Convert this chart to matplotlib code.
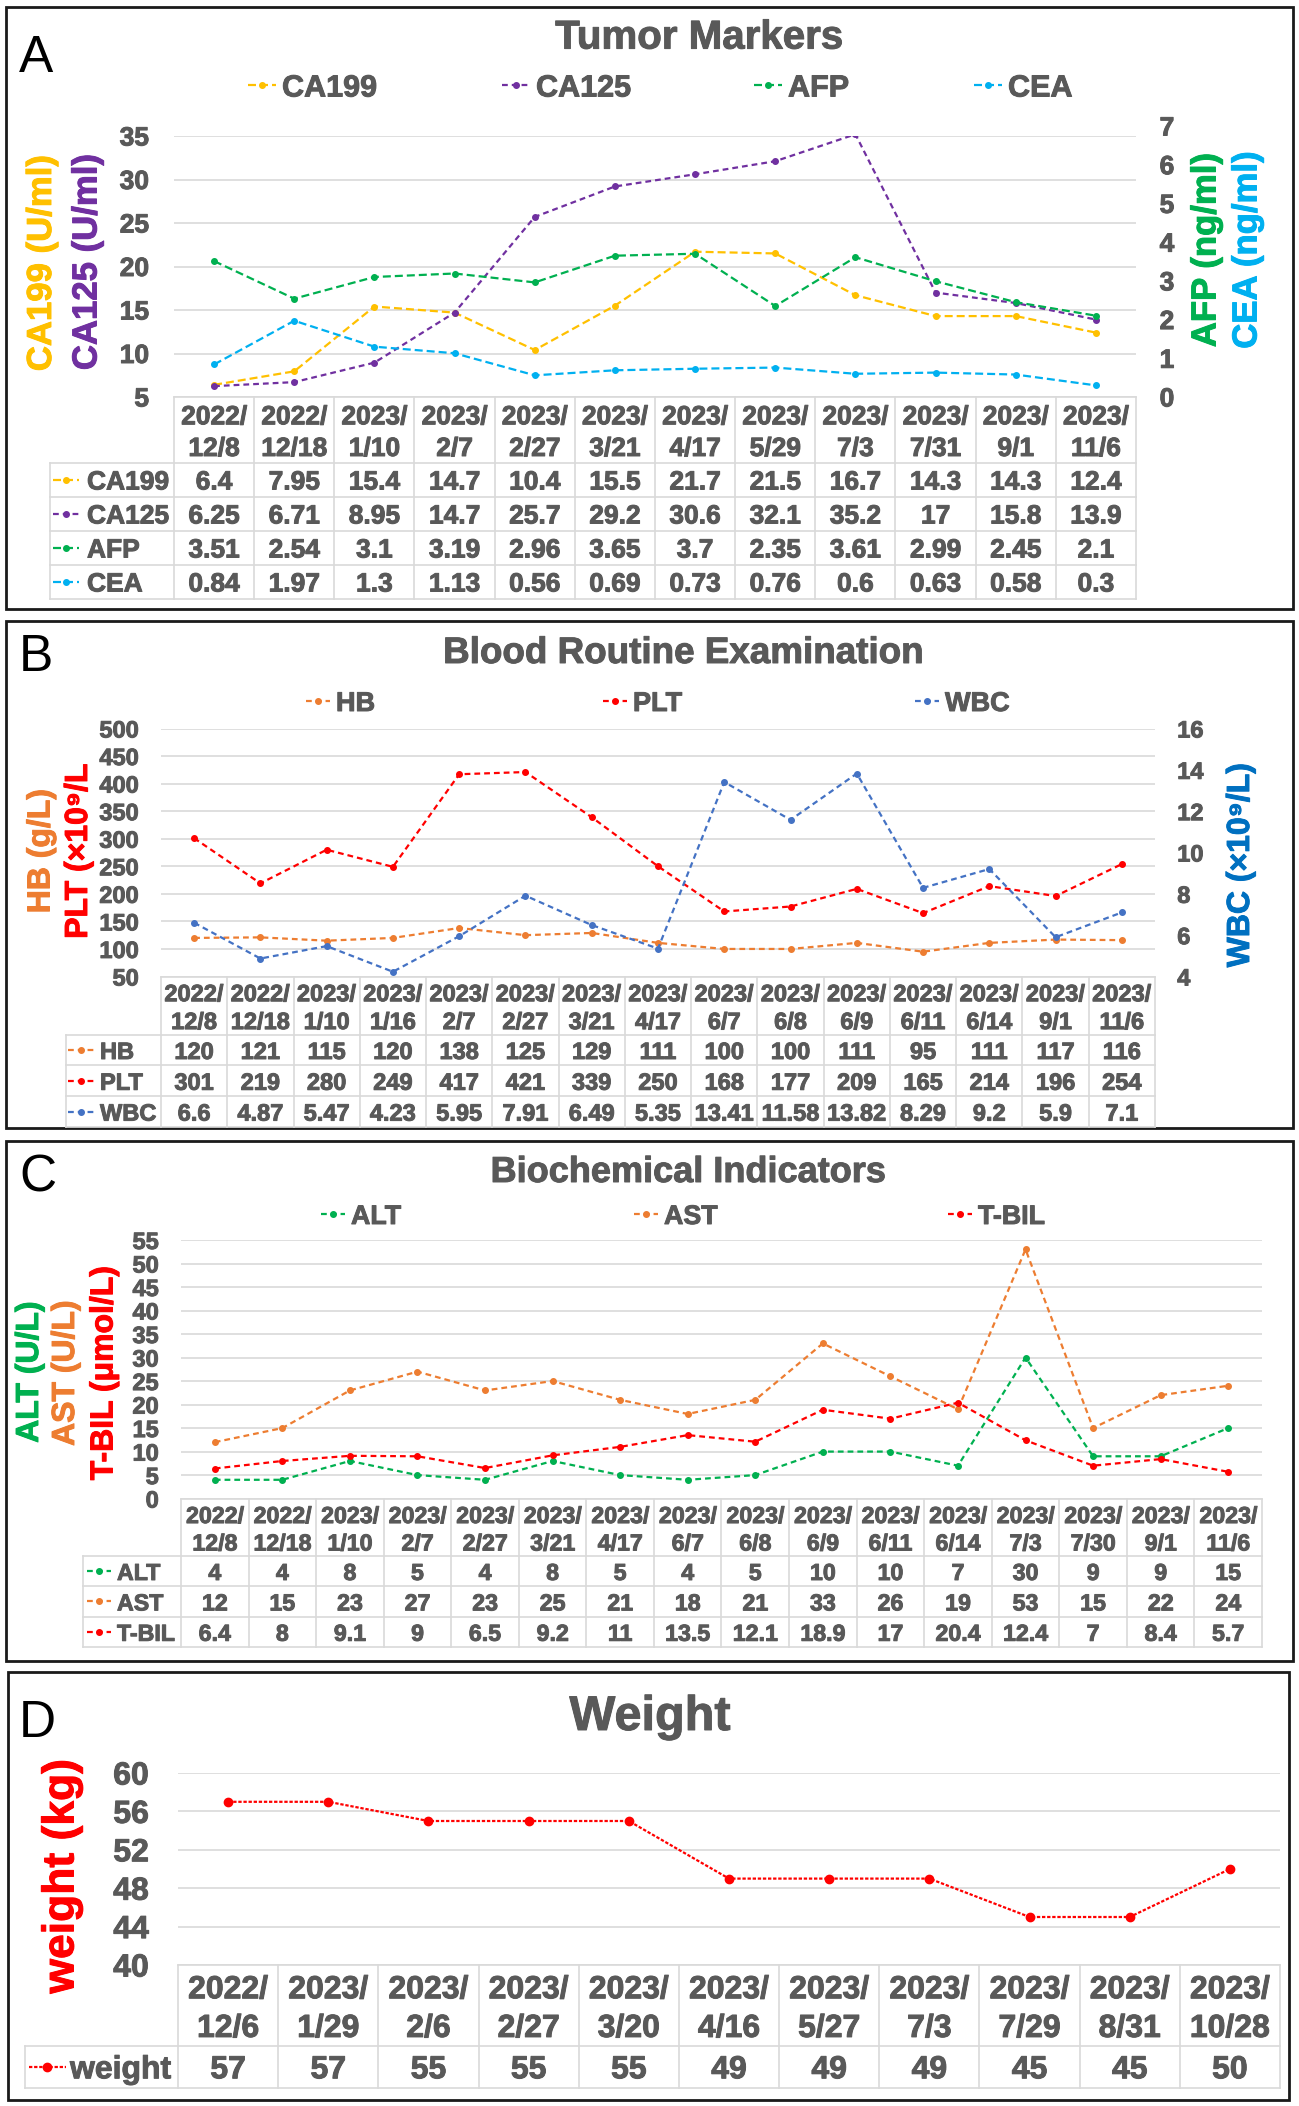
import matplotlib
matplotlib.use("Agg")
import matplotlib.pyplot as plt
import matplotlib.patheffects as pe
from matplotlib.patches import Rectangle

# ---- data -------------------------------------------------------------
dates_a = ["2022/12/8", "2022/12/18", "2023/1/10", "2023/2/7", "2023/2/27", "2023/3/21",
           "2023/4/17", "2023/5/29", "2023/7/3", "2023/7/31", "2023/9/1", "2023/11/6"]
ca199 = [6.4, 7.95, 15.4, 14.7, 10.4, 15.5, 21.7, 21.5, 16.7, 14.3, 14.3, 12.4]
ca125 = [6.25, 6.71, 8.95, 14.7, 25.7, 29.2, 30.6, 32.1, 35.2, 17, 15.8, 13.9]
afp = [3.51, 2.54, 3.1, 3.19, 2.96, 3.65, 3.7, 2.35, 3.61, 2.99, 2.45, 2.1]
cea = [0.84, 1.97, 1.3, 1.13, 0.56, 0.69, 0.73, 0.76, 0.6, 0.63, 0.58, 0.3]

dates_b = ["2022/12/8", "2022/12/18", "2023/1/10", "2023/1/16", "2023/2/7", "2023/2/27",
           "2023/3/21", "2023/4/17", "2023/6/7", "2023/6/8", "2023/6/9", "2023/6/11",
           "2023/6/14", "2023/9/1", "2023/11/6"]
hb = [120, 121, 115, 120, 138, 125, 129, 111, 100, 100, 111, 95, 111, 117, 116]
plt_count = [301, 219, 280, 249, 417, 421, 339, 250, 168, 177, 209, 165, 214, 196, 254]
wbc = [6.6, 4.87, 5.47, 4.23, 5.95, 7.91, 6.49, 5.35, 13.41, 11.58, 13.82, 8.29, 9.2, 5.9, 7.1]

dates_c = ["2022/12/8", "2022/12/18", "2023/1/10", "2023/2/7", "2023/2/27", "2023/3/21",
           "2023/4/17", "2023/6/7", "2023/6/8", "2023/6/9", "2023/6/11", "2023/6/14",
           "2023/7/3", "2023/7/30", "2023/9/1", "2023/11/6"]
alt = [4, 4, 8, 5, 4, 8, 5, 4, 5, 10, 10, 7, 30, 9, 9, 15]
ast = [12, 15, 23, 27, 23, 25, 21, 18, 21, 33, 26, 19, 53, 15, 22, 24]
tbil = [6.4, 8, 9.1, 9, 6.5, 9.2, 11, 13.5, 12.1, 18.9, 17, 20.4, 12.4, 7, 8.4, 5.7]

dates_d = ["2022/12/6", "2023/1/29", "2023/2/6", "2023/2/27", "2023/3/20", "2023/4/16",
           "2023/5/27", "2023/7/3", "2023/7/29", "2023/8/31", "2023/10/28"]
weight = [57, 57, 55, 55, 55, 49, 49, 49, 45, 45, 50]

# ---- style ------------------------------------------------------------
W, H = 1299, 2106
plt.rcParams["font.family"] = ["Liberation Sans", "DejaVu Sans"]
plt.rcParams["font.weight"] = "bold"
GRAY = "#595959"
GRID = "#D9D9D9"
YEL, PUR, GRN, CYA = "#FFC000", "#7030A0", "#00B050", "#00B0F0"
ORA, RED, BLU = "#ED7D31", "#FF0000", "#4472C4"
DASH = (0, (3.6, 1.8))
DASH_P = (0, (2.6, 1.8))
DOT = (0, (1.5, 0.8))

fig = plt.figure(figsize=(W / 100, H / 100), dpi=100)
ov = fig.add_axes([0, 0, 1, 1])
ov.set_xlim(0, W)
ov.set_ylim(H, 0)
ov.axis("off")


def heavy(color, w=0.7):
    return [pe.withStroke(linewidth=w, foreground=color)]


def txt(x, y, s, color=GRAY, **kw):
    return ov.text(x, y, s, color=color, path_effects=heavy(color), **kw)


def px_axes(x0, y0, x1, y1):
    a = fig.add_axes([x0 / W, 1 - y1 / H, (x1 - x0) / W, (y1 - y0) / H])
    a.patch.set_alpha(0)
    for s in a.spines.values():
        s.set_visible(False)
    a.tick_params(length=0, labelcolor=GRAY)
    a.set_xticks([])
    return a


def thicken_ticks(a):
    for lab in a.get_yticklabels():
        lab.set_path_effects(heavy(GRAY))


def sample(x, y, color, length, ls=DASH, ms=4, lw=1.6):
    ov.plot([x, x + length], [y, y], color=color, ls=ls, lw=lw)
    ov.plot([x + length / 2], [y], "o", color=color, ms=ms)


def table(x0, x1, y0, yh, yb, lx0, dates, rows, fs, samp_x, samp_len, text_x,
          ms=4):
    n = len(dates)
    cw = (x1 - x0) / n
    nr = len(rows)
    rh = (yb - yh) / nr
    kw = dict(color=GRID, lw=1.2, zorder=1)
    ov.plot([x0, x1], [y0, y0], **kw)
    for r in range(nr + 1):
        ov.plot([lx0, x1], [yh + r * rh] * 2, **kw)
    for i in range(n + 1):
        ov.plot([x0 + i * cw] * 2, [y0, yb], **kw)
    ov.plot([lx0, lx0], [yh, yb], **kw)
    hh = yh - y0
    for i, d in enumerate(dates):
        yr, md = d.split("/", 1)
        cx = x0 + (i + 0.5) * cw
        txt(cx, y0 + 0.27 * hh, yr + "/", ha="center", va="center_baseline", fontsize=fs)
        txt(cx, y0 + 0.75 * hh, md, ha="center", va="center_baseline", fontsize=fs)
    for r, (name, color, vals, ls) in enumerate(rows):
        cy = yh + (r + 0.5) * rh
        sample(samp_x, cy, color, samp_len, ls=ls, ms=ms)
        txt(text_x, cy, name, ha="left", va="center_baseline", fontsize=fs)
        for i, v in enumerate(vals):
            txt(x0 + (i + 0.5) * cw, cy, f"{v:g}", ha="center", va="center_baseline",
                fontsize=fs)


def frame(x0, y0, x1, y1, letter, ly, title, tx, ty, tfs):
    ov.add_patch(Rectangle((x0, y0), x1 - x0, y1 - y0, fill=False,
                           ec="#1a1a1a", lw=2))
    ov.text(19, ly, letter, fontsize=37, fontweight="normal", color="black",
            ha="left", va="baseline")
    txt(tx, ty, title, fontsize=tfs, ha="center", va="baseline")


def legend(items, y, base, fs, length):
    for x, name, color, ls in items:
        sample(x, y, color, length, ls=ls)
        txt(x + length + 6, base, name, fontsize=fs, ha="left", va="baseline")


def ylab(x, y, s, color, fs):
    txt(x, y, s, color=color, rotation=90, ha="center", va="center", fontsize=fs)


def series(a, vals, color, ls=DASH, ms=4, lw=1.6):
    a.plot(range(len(vals)), vals, color=color, ls=ls, lw=lw, marker="o", ms=ms,
           zorder=3)
    a.set_xlim(-0.5, len(vals) - 0.5)


# ---- Panel A ------------------------------------------------------------
frame(6, 7, 1293, 609, "A", 72, "Tumor Markers", 699, 48.6, 29)
legend([(248, "CA199", YEL, DASH), (502, "CA125", PUR, DASH_P),
        (754, "AFP", GRN, DASH), (974, "CEA", CYA, DASH)], 85, 96.5, 22, 28)
ax = px_axes(174, 136, 1136, 397)
ax.set_ylim(5, 35)
ax.set_yticks(range(5, 36, 5))
ax.tick_params(axis="y", labelsize=19, pad=18)
ax.grid(axis="y", color=GRID, lw=1.2)
ax.set_axisbelow(True)
series(ax, ca199, YEL)
series(ax, ca125, PUR, ls=DASH_P)
thicken_ticks(ax)
ax2 = px_axes(174, 126, 1136, 397)
ax2.set_ylim(0, 7)
ax2.set_yticks(range(0, 8))
ax2.yaxis.tick_right()
ax2.tick_params(axis="y", labelsize=19, pad=17, length=0)
series(ax2, afp, GRN)
series(ax2, cea, CYA)
thicken_ticks(ax2)
ylab(41.5, 263, "CA199 (U/ml)", YEL, 25)
ylab(87, 262, "CA125 (U/ml)", PUR, 25)
ylab(1206, 250, "AFP (ng/ml)", GRN, 25)
ylab(1247, 250, "CEA (ng/ml)", CYA, 25)
table(174, 1136, 397, 463, 599, 50, dates_a,
      [("CA199", YEL, ca199, DASH), ("CA125", PUR, ca125, DASH_P),
       ("AFP", GRN, afp, DASH), ("CEA", CYA, cea, DASH)],
      19, 53, 26, 87)

# ---- Panel B ------------------------------------------------------------
frame(6, 621, 1293, 1128, "B", 671, "Blood Routine Examination", 683, 663, 26.5)
legend([(306, "HB", ORA, DASH_P), (603, "PLT", RED, DASH_P), (915, "WBC", BLU, DASH_P)],
       701, 711, 19.5, 24)
bx = px_axes(161, 728.5, 1155, 976.5)
bx.set_ylim(50, 500)
bx.set_yticks(range(50, 501, 50))
bx.tick_params(axis="y", labelsize=17, pad=16)
bx.grid(axis="y", color=GRID, lw=1.2)
bx.set_axisbelow(True)
series(bx, hb, ORA, ls=DASH_P)
series(bx, plt_count, RED, ls=DASH_P)
thicken_ticks(bx)
bx2 = px_axes(161, 728.5, 1155, 976.5)
bx2.set_ylim(4, 16)
bx2.set_yticks(range(4, 17, 2))
bx2.yaxis.tick_right()
bx2.tick_params(axis="y", labelsize=17, pad=16, length=0)
series(bx2, wbc, BLU, ls=DASH_P)
thicken_ticks(bx2)
ylab(41.5, 851, "HB (g/L)", ORA, 23)
ylab(79, 851, "PLT (×10⁹/L", RED, 23)
ylab(1241, 865, "WBC (×10⁹/L)", "#0070C0", 23)
table(161, 1155, 976.5, 1034.6, 1127, 66, dates_b,
      [("HB", ORA, hb, DASH_P), ("PLT", RED, plt_count, DASH_P), ("WBC", BLU, wbc, DASH_P)],
      17, 68, 26, 100)

# ---- Panel C ------------------------------------------------------------
frame(6, 1141, 1293, 1661, "C", 1192, "Biochemical Indicators", 688, 1182, 26)
legend([(321, "ALT", GRN, DASH_P), (634, "AST", ORA, DASH_P), (948, "T-BIL", RED, DASH_P)],
       1214, 1224, 19.3, 24)
cx = px_axes(181, 1240, 1262, 1498.6)
cx.set_ylim(0, 55)
cx.set_yticks(range(0, 56, 5))
cx.tick_params(axis="y", labelsize=17, pad=16)
cx.grid(axis="y", color=GRID, lw=1.2)
cx.set_axisbelow(True)
series(cx, alt, GRN, ls=DASH_P)
series(cx, ast, ORA, ls=DASH_P)
series(cx, tbil, RED, ls=DASH_P)
thicken_ticks(cx)
ylab(30, 1372, "ALT (U/L)", GRN, 23)
ylab(66, 1373, "AST (U/L)", ORA, 23)
ylab(104.5, 1373, "T-BIL (μmol/L)", RED, 23)
table(181, 1262, 1498.6, 1555.8, 1647, 83, dates_c,
      [("ALT", GRN, alt, DASH_P), ("AST", ORA, ast, DASH_P), ("T-BIL", RED, tbil, DASH_P)],
      16.7, 87, 24, 117)

# ---- Panel D ------------------------------------------------------------
frame(8, 1672, 1289, 2100, "D", 1737, "Weight", 650, 1730, 35)
dx = px_axes(178, 1773, 1280, 1965)
dx.set_ylim(40, 60)
dx.set_yticks(range(40, 61, 4))
dx.tick_params(axis="y", labelsize=23, pad=21)
dx.grid(axis="y", color=GRID, lw=1.2)
dx.set_axisbelow(True)
series(dx, weight, RED, ls=DOT, ms=6, lw=1.6)
thicken_ticks(dx)
ylab(62, 1876, "weight (kg)", RED, 32)
table(178, 1280, 1965, 2045.6, 2088, 25, dates_d,
      [("weight", RED, weight, DOT)], 23, 29, 37, 70, ms=6)

fig.savefig("out.png", dpi=100)
